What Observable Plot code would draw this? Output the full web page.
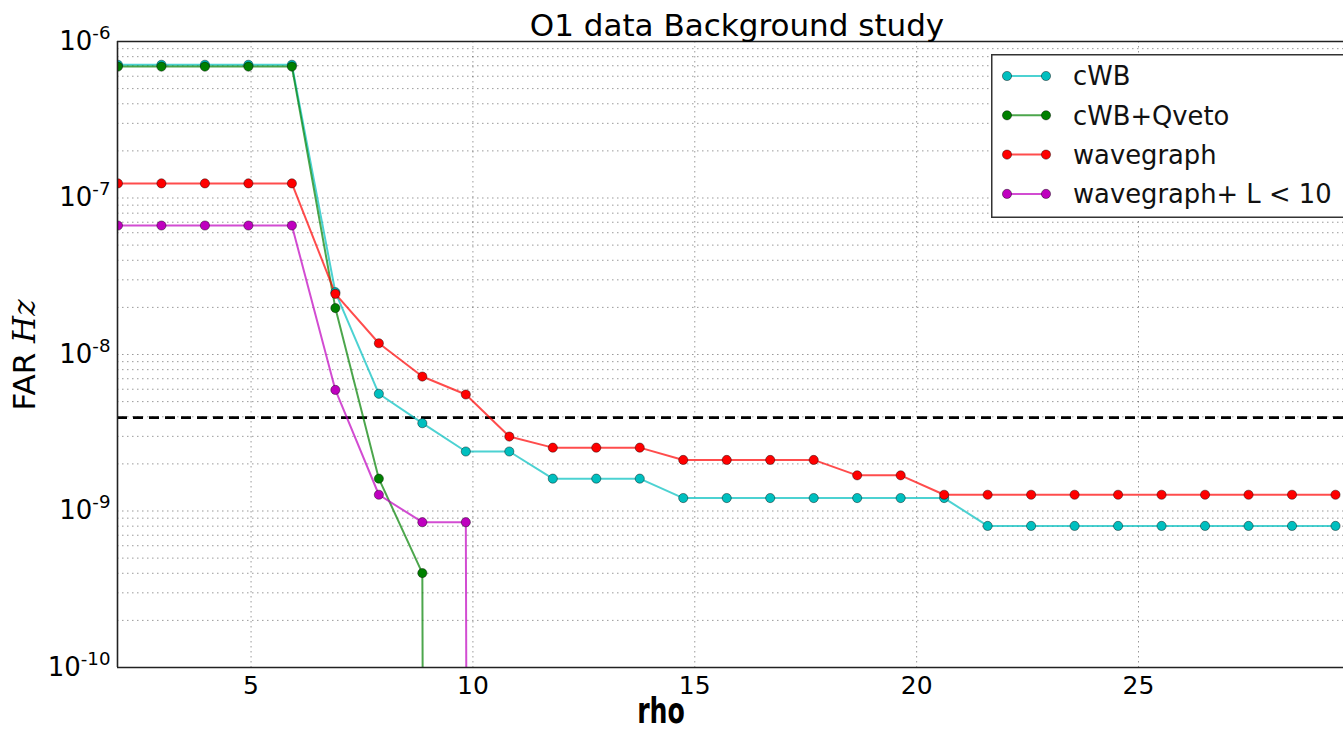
<!DOCTYPE html>
<html>
<head>
<meta charset="utf-8">
<script src="https://cdn.jsdelivr.net/npm/d3@7"></script>
<script src="https://cdn.jsdelivr.net/npm/@observablehq/plot@0.6"></script>
<style>
  body { margin: 0; background: #fff; font-family: "DejaVu Sans", sans-serif; }
  #wrap { position: relative; width: 1343px; height: 732px; overflow: hidden; background: #fff; }
  #chart { position: absolute; left: 0; top: 0; }
  #title { position: absolute; left: 737px; top: 9.5px; transform: translateX(-50%); font-size: 31px; line-height: 1; white-space: nowrap; color: #000; }
  #ylabel { position: absolute; left: 23.5px; top: 355px; transform: translate(-50%, -50%) rotate(-90deg); font-size: 31px; line-height: 1; white-space: nowrap; color: #000; }
  #ylabel .math { font-family: "DejaVu Serif", serif; font-style: italic; }
  #xlabel { position: absolute; left: 661px; top: 693px; transform: translateX(-50%) scaleX(0.7); font-size: 36px; font-weight: bold; line-height: 1; white-space: nowrap; color: #000; }
  #legend { position: absolute; left: 991px; top: 54px; }
</style>
</head>
<body>
<div id="wrap">
  <div id="chart"></div>
  <div id="title">O1 data Background study</div>
  <div id="ylabel">FAR <span class="math">Hz</span></div>
  <div id="xlabel">rho</div>
  <svg id="legend" width="352" height="164"></svg>
</div>
<script>
// ---- data ----
const rho = [2.00, 2.98, 3.96, 4.94, 5.92, 6.90, 7.88, 8.86, 9.84, 10.82, 11.80, 12.78, 13.76, 14.74,
             15.72, 16.70, 17.68, 18.66, 19.64, 20.62, 21.60, 22.58, 23.56, 24.54, 25.52, 26.50,
             27.48, 28.46, 29.44];

const cwb = [7.1e-7, 7.1e-7, 7.1e-7, 7.1e-7, 7.1e-7, 2.50e-8, 5.61e-9, 3.64e-9, 2.40e-9, 2.40e-9,
             1.61e-9, 1.61e-9, 1.61e-9, 1.21e-9, 1.21e-9, 1.21e-9, 1.21e-9, 1.21e-9, 1.21e-9, 1.21e-9,
             8.03e-10, 8.03e-10, 8.03e-10, 8.03e-10, 8.03e-10, 8.03e-10, 8.03e-10, 8.03e-10, 8.03e-10];

const cwbQveto = [6.91e-7, 6.91e-7, 6.91e-7, 6.91e-7, 6.91e-7, 1.98e-8, 1.61e-9, 4.01e-10, 0];

const wavegraph = [1.24e-7, 1.24e-7, 1.24e-7, 1.24e-7, 1.24e-7, 2.44e-8, 1.18e-8, 7.23e-9, 5.55e-9, 2.99e-9,
                   2.54e-9, 2.54e-9, 2.54e-9, 2.12e-9, 2.12e-9, 2.12e-9, 2.12e-9, 1.69e-9, 1.69e-9,
                   1.27e-9, 1.27e-9, 1.27e-9, 1.27e-9, 1.27e-9, 1.27e-9, 1.27e-9, 1.27e-9, 1.27e-9, 1.27e-9];

const wavegraphL10 = [6.67e-8, 6.67e-8, 6.67e-8, 6.67e-8, 6.67e-8, 5.94e-9, 1.27e-9, 8.48e-10, 8.48e-10, 0];

const seriesNames = ["cWB", "cWB+Qveto", "wavegraph", "wavegraph+ L < 10"];
const seriesValues = [cwb, cwbQveto, wavegraph, wavegraphL10];
const seriesColors = ["#00bfbf", "#008000", "#ff0000", "#bf00bf"];

const threshold = 3.95e-9;        // dashed reference line
const xTicks = [5, 10, 15, 20, 25];
const yTicks = [1e-10, 1e-9, 1e-8, 1e-7, 1e-6];
const xDomain = [1.99, 29.62];
const yDomain = [1e-10, 1e-6];

// ---- build table ----
const TINY = 1e-100; // a zero FAR drops straight off the log axis
const rows = [];
seriesValues.forEach((vals, s) => {
  vals.forEach((v, i) => {
    rows.push({series: seriesNames[s], rho: rho[i], far: v, yPlot: v > 0 ? v : TINY});
  });
});
const gridTicks = d3.scaleLog().domain(yDomain).ticks();

const chart = Plot.plot({
  width: 1343,
  height: 732,
  marginTop: 41,
  marginBottom: 65,
  marginLeft: 117,
  marginRight: 0,
  style: {fontFamily: "DejaVu Sans", background: "transparent", overflow: "visible", color: "#000"},
  x: {domain: xDomain, label: null},
  y: {type: "log", domain: yDomain, label: null},
  color: {domain: seriesNames, range: seriesColors},
  marks: [
    Plot.gridY(gridTicks, {stroke: "#000", strokeOpacity: 0.4, strokeWidth: 1, strokeDasharray: "1.5,3.5"}),
    Plot.gridX(xTicks, {stroke: "#000", strokeOpacity: 0.4, strokeWidth: 1, strokeDasharray: "1.5,3.5"}),
    Plot.ruleY([threshold], {stroke: "#000", strokeWidth: 2.6, strokeDasharray: "10,6"}),
    Plot.line(rows, {x: "rho", y: "yPlot", z: "series", stroke: "series", strokeOpacity: 0.7, strokeWidth: 2, clip: true}),
    Plot.dot(rows.filter(d => d.far > 0), {x: "rho", y: "far", fill: "series", r: 4.6, stroke: "#000", strokeOpacity: 0.6, strokeWidth: 0.7, clip: true}),
    Plot.ruleX([xDomain[0]], {stroke: "#222", strokeWidth: 1.6}),
    Plot.ruleY(yDomain, {stroke: "#222", strokeWidth: 1.6}),
    Plot.axisX(xTicks, {tickSize: 0, tickPadding: 8.5, fontSize: 25, label: null}),
    Plot.axisY(yTicks, {tickSize: 0, tickPadding: 7, fontSize: 26, label: null,
      tickFormat: d => "10^" + Math.round(Math.log10(d))})
  ]
});
document.getElementById("chart").appendChild(chart);

// superscript exponents on the y tick labels
chart.querySelectorAll("text").forEach(t => {
  const s = t.textContent;
  if (s.startsWith("10^")) {
    const exp = s.slice(3).replace("\u2212", "-");
    t.textContent = "10";
    const sup = document.createElementNS("http://www.w3.org/2000/svg", "tspan");
    sup.setAttribute("dy", "-0.62em");
    sup.setAttribute("font-size", "0.7em");
    sup.textContent = exp;
    t.appendChild(sup);
  }
});

// ---- legend ----
const legend = d3.select("#legend");
legend.append("rect").attr("x", 0.75).attr("y", 0.75).attr("width", 400).attr("height", 162.5)
  .attr("fill", "#fff").attr("stroke", "#333").attr("stroke-width", 1.5);
seriesNames.forEach((name, i) => {
  const y = 22 + i * 39.3;
  const g = legend.append("g");
  g.append("line").attr("x1", 16).attr("x2", 55).attr("y1", y).attr("y2", y)
    .attr("stroke", seriesColors[i]).attr("stroke-opacity", 0.7).attr("stroke-width", 2);
  [16, 55].forEach(cx => g.append("circle").attr("cx", cx).attr("cy", y).attr("r", 4.6)
    .attr("fill", seriesColors[i]).attr("stroke", "#000").attr("stroke-opacity", 0.6).attr("stroke-width", 0.7));
  g.append("text").attr("x", 82).attr("y", y).attr("dy", "0.36em")
    .attr("font-family", "DejaVu Sans").attr("font-size", 25.8).attr("fill", "#111").text(name);
});
</script>
</body>
</html>
